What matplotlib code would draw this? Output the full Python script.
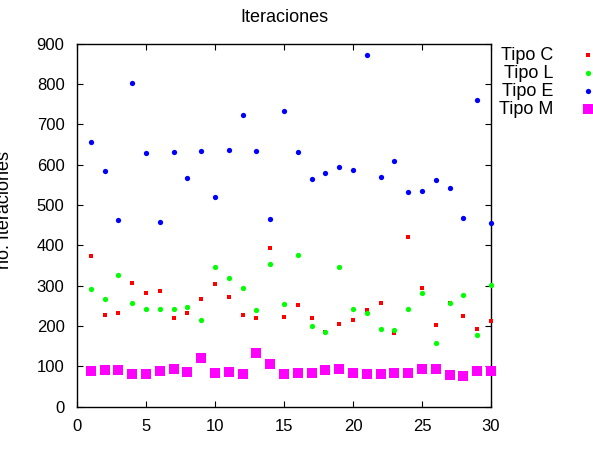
import matplotlib
matplotlib.use("Agg")
import matplotlib.pyplot as plt
from matplotlib.lines import Line2D

plt.rcParams['font.family'] = ['Liberation Sans', 'DejaVu Sans']

x = list(range(1, 31))
tipo_c = [373, 228, 231, 306, 281, 286, 220, 233, 266, 305, 271, 227, 219, 393, 223,
          252, 219, 185, 206, 214, 240, 258, 183, 421, 295, 203, 258, 224, 192, 213]
tipo_l = [292, 268, 327, 258, 241, 243, 243, 248, 215, 346, 320, 295, 239, 353, 255,
          376, 199, 184, 346, 242, 231, 192, 190, 241, 282, 158, 258, 276, 177, 301]
tipo_e = [657, 585, 463, 802, 628, 457, 630, 567, 634, 520, 635, 722, 634, 464, 733,
          632, 564, 580, 595, 587, 872, 570, 610, 533, 535, 562, 542, 467, 761, 455]
tipo_m = [88, 91, 91, 82, 82, 88, 94, 87, 120, 83, 86, 81, 133, 107, 81,
          83, 84, 91, 93, 83, 81, 81, 83, 84, 93, 93, 78, 77, 89, 89]
labels = ["Tipo C", "Tipo L", "Tipo E", "Tipo M"]
xticks = [0, 5, 10, 15, 20, 25, 30]
yticks = [0, 100, 200, 300, 400, 500, 600, 700, 800, 900]

W, H = 593, 465
fig = plt.figure(figsize=(W / 100, H / 100), dpi=100)
ax = fig.add_axes([77 / W, 1 - 406.7 / H, (491 - 77) / W, (406.7 - 43.5) / H])

styles = [
    dict(color='#ff0000', marker='s', ms=2.8),
    dict(color='#00ff00', marker='o', ms=3.8),
    dict(color='#0000ff', marker='o', ms=3.8),
    dict(color='#ff00ff', marker='s', ms=6.5),
]
series = [tipo_c, tipo_l, tipo_e, tipo_m]
for s, st in zip(series, styles):
    ax.plot(x, s, linestyle='none', marker=st['marker'], ms=st['ms'],
            color=st['color'], mec=st['color'], mew=0, clip_on=False, zorder=3)

ax.set_xlim(0, 30)
ax.set_ylim(0, 900)
ax.set_xticks(xticks)
ax.set_yticks(yticks)
ax.tick_params(direction='in', length=4, width=0.8, top=True, right=True,
               labelsize=12, pad=9)
for sp in ax.spines.values():
    sp.set_linewidth(1.0)

fig.text(284 / W, 1 - 17 / H, "Iteraciones", ha='center', va='center', fontsize=13)
fig.text(5 / W, 1 - 210 / H, "no. Iteraciones", ha='center', va='center',
         rotation=90, fontsize=13)

leg_y = [55, 73, 91, 109]
for lab, st, yy in zip(labels, styles, leg_y):
    fig.text(553 / W, 1 - yy / H, lab, ha='right', va='center', fontsize=13)
    fig.add_artist(Line2D([588 / W], [1 - yy / H], transform=fig.transFigure,
                          linestyle='none', marker=st['marker'], ms=st['ms'],
                          color=st['color'], mew=0))

fig.savefig("out.png", dpi=100)
